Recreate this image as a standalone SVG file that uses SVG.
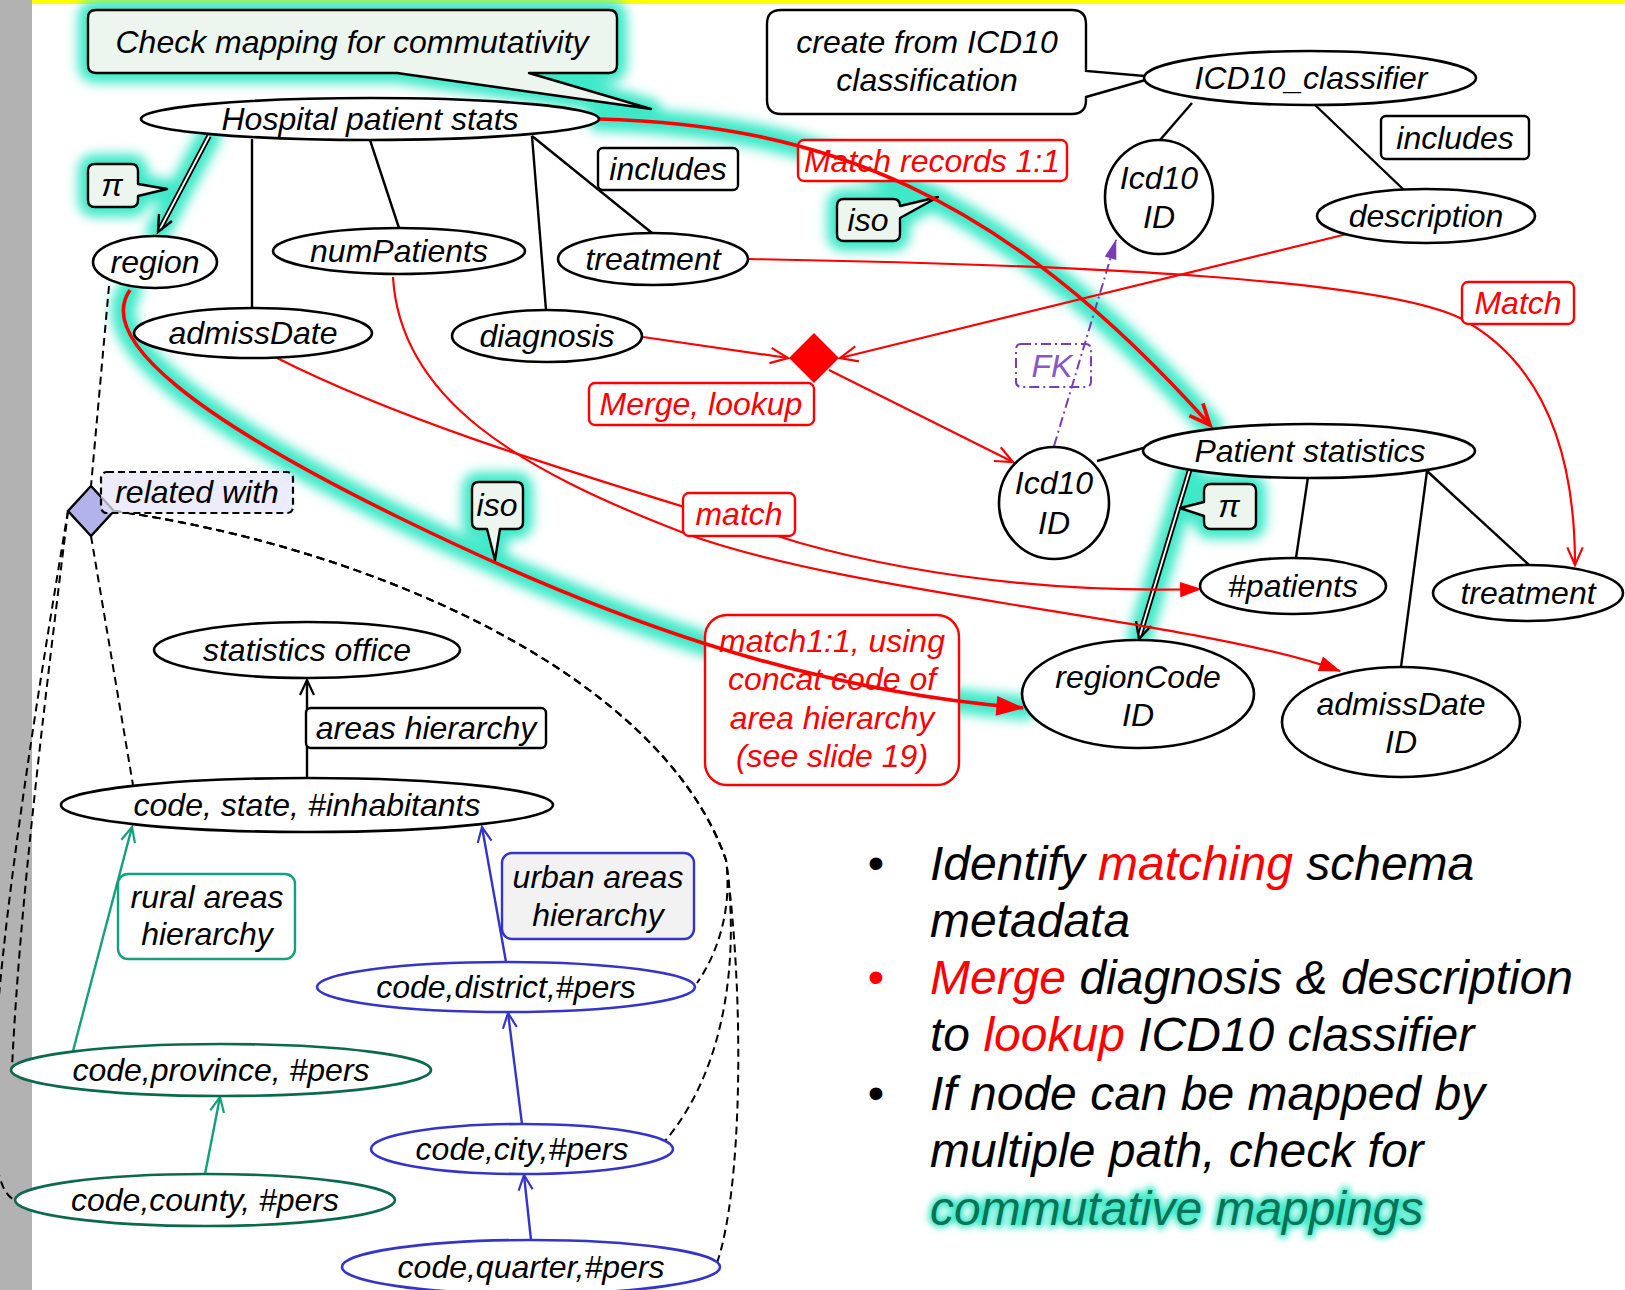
<svg xmlns="http://www.w3.org/2000/svg" width="1625" height="1290" viewBox="0 0 1625 1290">
  <defs>
    <style>
      text { font-family: "Liberation Sans", Arial, sans-serif; font-style: italic; font-size: 32px; text-anchor: middle; fill: #000; }
      .el { fill: #fff; stroke: #000; stroke-width: 2.6; }
      .elB { fill: #fff; stroke: #3434c8; stroke-width: 2.6; }
      .elG { fill: #fff; stroke: #0b6a4c; stroke-width: 2.6; }
      .box { fill: #fff; stroke: #000; stroke-width: 2.4; }
      .rbox { fill: #fff; stroke: #f00; stroke-width: 2.4; }
      .rt { fill: #f00; }
      .callout { fill: #edf5ef; stroke: #000; stroke-width: 2.4; stroke-linejoin: round; }
      .edge { fill: none; stroke: #000; stroke-width: 2.4; }
      .red { fill: none; stroke: #f00; stroke-width: 2.2; }
      .redThick { fill: none; stroke: #f00; stroke-width: 3.6; }
      .green { fill: none; stroke: #13a07c; stroke-width: 2.4; }
      .blue { fill: none; stroke: #3434c8; stroke-width: 2.4; }
      .dash { fill: none; stroke: #000; stroke-width: 2; stroke-dasharray: 8 5; }
      .fk { fill: none; stroke: #7a3cb4; stroke-width: 2; stroke-dasharray: 10 4 2 4; }
      .glow { fill: none; stroke: #3ee9c9; stroke-width: 24; stroke-linecap: round; stroke-linejoin: round; }
      .glowFill { fill: #3ee9c9; stroke: #3ee9c9; stroke-width: 20; stroke-linejoin: round; }
      .shaftOut { fill: none; stroke: #000; stroke-width: 5.5; }
      .shaftIn { fill: none; stroke: #fff; stroke-width: 1.8; }
      .body { text-anchor: start; font-size: 48px; }
      .dot { font-style: normal; text-anchor: middle; font-size: 47px; }
    </style>
    <filter id="blur" filterUnits="userSpaceOnUse" x="0" y="0" width="1625" height="1290">
      <feGaussianBlur stdDeviation="6"/>
    </filter>
    <filter id="textGlow" filterUnits="userSpaceOnUse" x="850" y="1150" width="600" height="120">
      <feGaussianBlur stdDeviation="3"/>
    </filter>
    <marker id="vBlack" viewBox="0 0 20 20" refX="18" refY="10" markerWidth="20" markerHeight="20" markerUnits="userSpaceOnUse" orient="auto" overflow="visible">
      <path d="M3,3 L18,10 L3,17" fill="none" stroke="#000" stroke-width="2.2"/>
    </marker>
    <marker id="vRed" viewBox="0 0 20 20" refX="18" refY="10" markerWidth="22" markerHeight="22" markerUnits="userSpaceOnUse" orient="auto" overflow="visible">
      <path d="M2,3 L18,10 L2,17" fill="none" stroke="#f00" stroke-width="2"/>
    </marker>
    <marker id="vRedThick" viewBox="0 0 20 20" refX="18" refY="10" markerWidth="26" markerHeight="26" markerUnits="userSpaceOnUse" orient="auto" overflow="visible">
      <path d="M2,3 L18,10 L2,17" fill="none" stroke="#f00" stroke-width="2.8"/>
    </marker>
    <marker id="fRed" viewBox="0 0 20 20" refX="19" refY="10" markerWidth="22" markerHeight="22" markerUnits="userSpaceOnUse" orient="auto" overflow="visible">
      <path d="M0,3 L20,10 L0,17 Z" fill="#f00"/>
    </marker>
    <marker id="fRedBig" viewBox="0 0 20 20" refX="19" refY="10" markerWidth="28" markerHeight="28" markerUnits="userSpaceOnUse" orient="auto" overflow="visible">
      <path d="M0,3 L20,10 L0,17 Z" fill="#f00"/>
    </marker>
    <marker id="vGreen" viewBox="0 0 20 20" refX="18" refY="10" markerWidth="20" markerHeight="20" markerUnits="userSpaceOnUse" orient="auto" overflow="visible">
      <path d="M3,3 L18,10 L3,17" fill="none" stroke="#13a07c" stroke-width="2.2"/>
    </marker>
    <marker id="vBlue" viewBox="0 0 20 20" refX="18" refY="10" markerWidth="20" markerHeight="20" markerUnits="userSpaceOnUse" orient="auto" overflow="visible">
      <path d="M3,3 L18,10 L3,17" fill="none" stroke="#3434c8" stroke-width="2.2"/>
    </marker>
    <marker id="fPurple" viewBox="0 0 20 20" refX="19" refY="10" markerWidth="20" markerHeight="20" markerUnits="userSpaceOnUse" orient="auto" overflow="visible">
      <path d="M0,4 L20,10 L0,16 Z" fill="#7a3cb4"/>
    </marker>
  </defs>

  <!-- page background, side bar and top band -->
  <rect x="0" y="0" width="1625" height="1290" fill="#fff"/>
  <rect x="0" y="0" width="32" height="1290" fill="#b2b2b2"/>
  <rect x="32" y="0" width="1593" height="4" fill="#ffff00"/>

  <g id="connectors">
    <!-- highlight halo along the commutative paths -->
    <g filter="url(#blur)">
      <path class="glowFill" d="M96,10 H609 Q617,10 617,18 V65 Q617,73 609,73 H529 L651,109 L397,73 H96 Q88,73 88,65 V18 Q88,10 96,10 Z"/>
      <path class="glowFill" d="M95,164 H131 Q138,164 138,171 V184 L167,189 L138,196 V200 Q138,207 131,207 H95 Q88,207 88,200 V171 Q88,164 95,164 Z"/>
      <path class="glow" d="M209,136 L158,232"/>
      <path class="glowFill" d="M844,199 H893 Q900,199 900,206 L938,197 L900,218 V234 Q900,241 893,241 H844 Q837,241 837,234 V206 Q837,199 844,199 Z"/>
      <path class="glow" d="M630,104 L599,119 C820,125 1000,190 1211,427"/>
      <path class="glow" d="M130,290 C95,340 200,420 400,518 S800,690 1025,708"/>
      <path class="glowFill" d="M479,482 H516 Q523,482 523,489 V522 Q523,529 516,529 H500 L495,560 L487,529 H479 Q472,529 472,522 V489 Q472,482 479,482 Z"/>
      <path class="glowFill" d="M1211,484 H1249 Q1256,484 1256,491 V522 Q1256,529 1249,529 H1211 Q1204,529 1204,522 V516 L1180,508 L1204,502 V491 Q1204,484 1211,484 Z"/>
      <path class="glow" d="M1190,469 L1139,639"/>
    </g>

    <!-- attribute edges -->
    <line class="edge" x1="370" y1="140" x2="399" y2="228"/>
    <line class="edge" x1="252" y1="139" x2="252" y2="308"/>
    <line class="edge" x1="532" y1="136" x2="546" y2="310"/>
    <line class="edge" x1="532" y1="136" x2="652" y2="233"/>
    <line class="edge" x1="1192" y1="103" x2="1160" y2="140"/>
    <line class="edge" x1="1314" y1="104" x2="1404" y2="190"/>
    <line class="edge" x1="1097" y1="461" x2="1147" y2="447"/>
    <line class="edge" x1="1308" y1="477" x2="1296" y2="558"/>
    <line class="edge" x1="1427" y1="471" x2="1401" y2="667"/>
    <line class="edge" x1="1427" y1="471" x2="1529" y2="565"/>

    <!-- projection arrows (double shaft) -->
    <path class="shaftOut" d="M209,136 L160,229"/>
    <path class="shaftIn" d="M209,136 L160,229"/>
    <path class="edge" d="M172,221 L158,232 L159,214"/>
    <path class="shaftOut" d="M1190,469 L1140,635"/>
    <path class="shaftIn" d="M1190,469 L1140,635"/>
    <path class="edge" d="M1151,626 L1139,639 L1136,621"/>

    <!-- area hierarchies -->
    <line class="edge" x1="307" y1="777" x2="307" y2="680" marker-end="url(#vBlack)"/>
    <line class="green" x1="73" y1="1051" x2="132" y2="827" marker-end="url(#vGreen)"/>
    <line class="green" x1="205" y1="1174" x2="220" y2="1097" marker-end="url(#vGreen)"/>
    <line class="blue" x1="506" y1="962" x2="482" y2="827" marker-end="url(#vBlue)"/>
    <line class="blue" x1="522" y1="1124" x2="508" y2="1013" marker-end="url(#vBlue)"/>
    <line class="blue" x1="531" y1="1240" x2="524" y2="1175" marker-end="url(#vBlue)"/>

    <!-- "related with" links -->
    <path class="dash" d="M109,286 L91,486"/>
    <path class="dash" d="M91,536 L133,785"/>
    <path class="dash" d="M68,511 C45,700 20,900 12,1068"/>
    <path class="dash" d="M68,511 C20,800 -40,1180 15,1200"/>
    <path class="dash" d="M114,511 C360,545 660,670 726,860 C732,905 720,950 697,983"/>
    <path class="dash" d="M114,511 C360,545 660,670 726,860 C740,960 725,1070 665,1141"/>
    <path class="dash" d="M114,511 C360,545 660,670 726,860 C745,1000 742,1190 717,1263"/>

    <!-- foreign key -->
    <line class="fk" x1="1054" y1="446" x2="1116" y2="240" marker-end="url(#fPurple)"/>

    <!-- matches and merge -->
    <path class="red" d="M277,358 C420,430 600,480 800,543 C950,585 1100,592 1201,589" marker-end="url(#fRed)"/>
    <path class="red" d="M393,277 C400,400 520,470 684,533 C850,595 1200,620 1340,671" marker-end="url(#fRed)"/>
    <path class="red" d="M749,259 C1100,265 1380,280 1460,318 C1530,355 1575,430 1575,565" marker-end="url(#vRed)"/>
    <line class="red" x1="643" y1="337" x2="788" y2="358" marker-end="url(#vRed)"/>
    <line class="red" x1="1347" y1="234" x2="840" y2="358" marker-end="url(#vRed)"/>
    <line class="red" x1="829" y1="370" x2="1013" y2="462" marker-end="url(#vRed)"/>
    <path d="M814,333 L839,358 L814,383 L789,358 Z" fill="#f00"/>

    <!-- edge labels -->
    <g id="lbl-check">
      <path class="callout" d="M96,10 H609 Q617,10 617,18 V65 Q617,73 609,73 H529 L651,109 L397,73 H96 Q88,73 88,65 V18 Q88,10 96,10 Z"/>
      <text x="352" y="53">Check mapping for commutativity</text>
    </g>
    <g id="lbl-create">
      <path class="box" d="M781,10 H1072 Q1086,10 1086,24 V71 L1156,77 L1086,97 V100 Q1086,114 1072,114 H781 Q767,114 767,100 V24 Q767,10 781,10 Z"/>
      <text x="927" y="53">create from ICD10</text>
      <text x="927" y="91">classification</text>
    </g>
    <g id="lbl-pi1">
      <path class="callout" d="M95,164 H131 Q138,164 138,171 V184 L167,189 L138,196 V200 Q138,207 131,207 H95 Q88,207 88,200 V171 Q88,164 95,164 Z"/>
      <text x="112" y="196">π</text>
    </g>
    <g id="lbl-includes1">
      <rect class="box" x="598" y="148" width="140" height="42" rx="5"/>
      <text x="668" y="180">includes</text>
    </g>
    <g id="lbl-includes2">
      <rect class="box" x="1381" y="116" width="148" height="43" rx="5"/>
      <text x="1455" y="149">includes</text>
    </g>
    <g id="lbl-match-records">
      <rect class="rbox" x="798" y="140" width="269" height="41" rx="6"/>
      <text class="rt" x="932" y="172">Match records 1:1</text>
    </g>
    <g id="lbl-iso1">
      <path class="callout" d="M844,199 H893 Q900,199 900,206 L938,197 L900,218 V234 Q900,241 893,241 H844 Q837,241 837,234 V206 Q837,199 844,199 Z"/>
      <text x="868" y="231">iso</text>
    </g>
    <g id="lbl-Match">
      <rect class="rbox" x="1462" y="282" width="112" height="42" rx="6"/>
      <text class="rt" x="1518" y="314">Match</text>
    </g>
    <g id="lbl-merge">
      <rect class="rbox" x="589" y="383" width="225" height="42" rx="6"/>
      <text class="rt" x="701" y="415">Merge, lookup</text>
    </g>
    <g id="lbl-fk">
      <rect class="fk" x="1016" y="344" width="75" height="43" rx="5"/>
      <text x="1052" y="377" style="fill:#8a55c8">FK</text>
    </g>
    <g id="lbl-pi2">
      <path class="callout" d="M1211,484 H1249 Q1256,484 1256,491 V522 Q1256,529 1249,529 H1211 Q1204,529 1204,522 V516 L1180,508 L1204,502 V491 Q1204,484 1211,484 Z"/>
      <text x="1229" y="517">π</text>
    </g>
    <g id="lbl-match">
      <rect class="rbox" x="683" y="493" width="112" height="43" rx="6"/>
      <text class="rt" x="739" y="525">match</text>
    </g>
    <g id="lbl-iso2">
      <path class="callout" d="M479,482 H516 Q523,482 523,489 V522 Q523,529 516,529 H500 L495,560 L487,529 H479 Q472,529 472,522 V489 Q472,482 479,482 Z"/>
      <text x="497" y="516">iso</text>
    </g>
    <g id="lbl-concat">
      <rect class="rbox" x="705" y="615" width="254" height="170" rx="22"/>
      <text class="rt" x="832" y="652">match1:1, using</text>
      <text class="rt" x="832" y="690">concat code of</text>
      <text class="rt" x="832" y="729">area hierarchy</text>
      <text class="rt" x="832" y="767">(see slide 19)</text>
    </g>
    <g id="lbl-areas">
      <rect class="box" x="306" y="708" width="240" height="40" rx="5"/>
      <text x="426" y="739">areas hierarchy</text>
    </g>
    <g id="lbl-rural">
      <rect x="118" y="874" width="177" height="85" rx="10" fill="#fff" stroke="#13a07c" stroke-width="2.4"/>
      <text x="207" y="908">rural areas</text>
      <text x="207" y="945">hierarchy</text>
    </g>
    <g id="lbl-urban">
      <rect x="502" y="853" width="192" height="86" rx="10" fill="#f2f2f2" stroke="#3434c8" stroke-width="2.4"/>
      <text x="598" y="888">urban areas</text>
      <text x="598" y="926">hierarchy</text>
    </g>

    <!-- commutative paths -->
    <path class="redThick" d="M599,119 C820,125 1000,190 1210,425" marker-end="url(#vRedThick)"/>
    <path class="redThick" d="M130,290 C95,340 200,420 400,518 S800,690 1023,708" marker-end="url(#fRedBig)"/>
  </g>

  <!-- source schema -->
  <g id="n-hospital"><ellipse class="el" cx="370" cy="119" rx="229" ry="21"/><text x="370" y="130">Hospital patient stats</text></g>
  <g id="n-region"><ellipse class="el" cx="155" cy="262" rx="62" ry="26"/><text x="155" y="273">region</text></g>
  <g id="n-numpatients"><ellipse class="el" cx="399" cy="251" rx="126" ry="23"/><text x="399" y="262">numPatients</text></g>
  <g id="n-treatment1"><ellipse class="el" cx="653" cy="259" rx="95" ry="26"/><text x="653" y="270">treatment</text></g>
  <g id="n-admissdate"><ellipse class="el" cx="253" cy="333" rx="119" ry="25"/><text x="253" y="344">admissDate</text></g>
  <g id="n-diagnosis"><ellipse class="el" cx="547" cy="336" rx="95" ry="26"/><text x="547" y="347">diagnosis</text></g>

  <!-- classifier -->
  <g id="n-icd10cls"><ellipse class="el" cx="1310" cy="78" rx="166" ry="27"/><text x="1311" y="89">ICD10_classifier</text></g>
  <g id="n-icd10a"><ellipse class="el" cx="1159" cy="197" rx="54" ry="57"/><text x="1159" y="189">Icd10</text><text x="1159" y="228">ID</text></g>
  <g id="n-description"><ellipse class="el" cx="1426" cy="216" rx="109" ry="27"/><text x="1426" y="227">description</text></g>

  <!-- target schema -->
  <g id="n-icd10b"><ellipse class="el" cx="1054" cy="503" rx="55" ry="56"/><text x="1054" y="494">Icd10</text><text x="1054" y="534">ID</text></g>
  <g id="n-patientstats"><ellipse class="el" cx="1309" cy="451" rx="166" ry="27"/><text x="1310" y="462">Patient statistics</text></g>
  <g id="n-patients"><ellipse class="el" cx="1293" cy="586" rx="93" ry="28"/><text x="1293" y="597">#patients</text></g>
  <g id="n-treatment2"><ellipse class="el" cx="1528" cy="593" rx="95" ry="28"/><text x="1528" y="604">treatment</text></g>
  <g id="n-regioncode"><ellipse class="el" cx="1138" cy="694" rx="116" ry="54"/><text x="1138" y="688">regionCode</text><text x="1138" y="726">ID</text></g>
  <g id="n-admissdateid"><ellipse class="el" cx="1401" cy="722" rx="119" ry="55"/><text x="1401" y="715">admissDate</text><text x="1401" y="753">ID</text></g>

  <!-- area hierarchies -->
  <g id="n-related">
    <path d="M91,486 L114,511 L91,536 L68,511 Z" fill="#b3b3ec" stroke="#000" stroke-width="2.4"/>
    <rect x="101" y="472" width="192" height="41" rx="6" fill="#e6e6fa" fill-opacity="0.75" stroke="#000" stroke-width="2.2" stroke-dasharray="7 4"/>
    <text x="197" y="503">related with</text>
  </g>
  <g id="n-statsoffice"><ellipse class="el" cx="307" cy="650" rx="153" ry="28"/><text x="307" y="661">statistics office</text></g>
  <g id="n-state"><ellipse class="el" cx="307" cy="805" rx="246" ry="27"/><text x="307" y="816">code, state, #inhabitants</text></g>
  <g id="n-district"><ellipse class="elB" cx="506" cy="987" rx="189" ry="25"/><text x="506" y="998">code,district,#pers</text></g>
  <g id="n-province"><ellipse class="elG" cx="221" cy="1070" rx="210" ry="26"/><text x="221" y="1081">code,province, #pers</text></g>
  <g id="n-city"><ellipse class="elB" cx="522" cy="1149" rx="151" ry="25"/><text x="522" y="1160">code,city,#pers</text></g>
  <g id="n-county"><ellipse class="elG" cx="205" cy="1200" rx="190" ry="26"/><text x="205" y="1211">code,county, #pers</text></g>
  <g id="n-quarter"><ellipse class="elB" cx="531" cy="1267" rx="189" ry="27"/><text x="531" y="1278">code,quarter,#pers</text></g>

  <!-- bullet notes -->
  <g id="notes">
    <text class="dot" x="876" y="879">•</text>
    <text class="body" x="930" y="880">Identify <tspan fill="#f00">matching</tspan> schema</text>
    <text class="body" x="930" y="937">metadata</text>
    <text class="dot" x="876" y="993" style="fill:#f00">•</text>
    <text class="body" x="930" y="994"><tspan fill="#f00">Merge</tspan> diagnosis &amp; description</text>
    <text class="body" x="930" y="1051">to <tspan fill="#f00">lookup</tspan> ICD10 classifier</text>
    <text class="dot" x="876" y="1109">•</text>
    <text class="body" x="930" y="1110">If node can be mapped by</text>
    <text class="body" x="930" y="1167">multiple path, check for</text>
    <text class="body" x="930" y="1225" filter="url(#textGlow)" style="fill:#3ee9c9;stroke:#3ee9c9;stroke-width:6">commutative mappings</text>
    <text class="body" x="930" y="1225" style="fill:#0a7355">commutative mappings</text>
  </g>
</svg>
